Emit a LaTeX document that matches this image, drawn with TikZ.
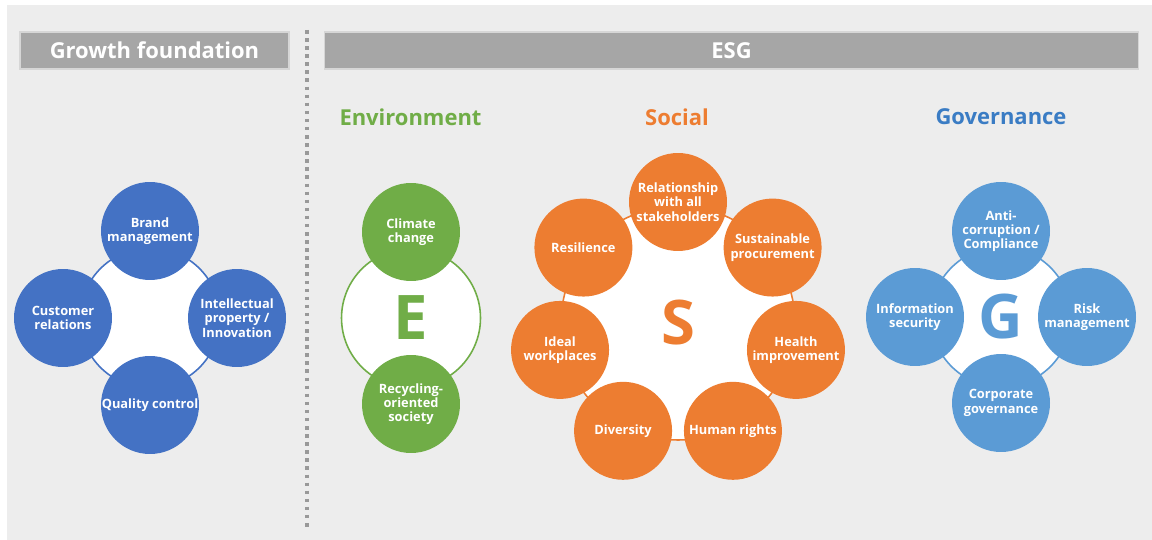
\documentclass[tikz,border=0pt]{standalone}
\usepackage{fontspec}
\setmainfont{Open Sans}
\usetikzlibrary{calc}
\definecolor{panelgray}{HTML}{EDEDED}
\definecolor{bargray}{HTML}{A6A6A6}
\definecolor{barline}{HTML}{D6D6D6}
\definecolor{dotgray}{HTML}{999999}
\definecolor{growthblue}{HTML}{4472C4}
\definecolor{envgreen}{HTML}{70AD47}
\definecolor{socialorange}{HTML}{ED7D31}
\definecolor{govblue}{HTML}{5B9BD5}
\definecolor{govtitle}{HTML}{3A7CC4}
\tikzset{
	headbar/.style={
		rectangle,
		fill=bargray,
		draw=barline,
		line width=.6pt,
		minimum height=.74cm,
		text=white,
		font=\fontsize{12.5}{14}\selectfont\bfseries
	},
	heading/.style={
		font=\fontsize{12.5}{14}\selectfont\bfseries
	},
	hub/.style={
		circle,
		fill=white,
		draw=#1,
		line width=.9pt,
		inner sep=0pt,
		text=#1,
		font=\fontsize{35}{35}\selectfont\bfseries
	},
	topic/.style={
		circle,
		fill=#1,
		minimum size=1.96cm,
		inner sep=0pt,
		align=center,
		text=white,
		font=\fontsize{7.3}{8.1}\selectfont\bfseries
	}
}

\begin{document}
\begin{tikzpicture}[x=.02cm, y=.02cm]
	\useasboundingbox (0,0) rectangle (1152,-540);
	\fill[panelgray] (7,-5) rectangle (1152,-540);

	\draw node[headbar, minimum width=5.38cm](GrowthBar) at (154.5,-50.5){Growth foundation};
	\draw node[headbar, minimum width=16.3cm](ESGBar) at (731.5,-50.5){ESG};
	\coordinate (SepTop) at (307,-30);
	\coordinate (SepBottom) at (307,-528);
	\draw[dotgray, line width=2pt, dash pattern=on 2pt off 2.6pt] (SepTop) -- (SepBottom);

	\draw node[heading, text=envgreen](EnvTitle) at (410.5,-117){Environment};
	\draw node[heading, text=socialorange](SocialTitle) at (677,-117){Social};
	\draw node[heading, text=govtitle](GovTitle) at (1001,-117){Governance};

	\draw node[hub=growthblue, minimum size=2.8cm](GrowthHub) at (150,-318){};
	\draw node[topic=growthblue](Brand) at ($(GrowthHub)+(90:87)$){Brand\\management};
	\draw node[topic=growthblue](IP) at ($(GrowthHub)+(0:87)$){Intellectual\\property /\\Innovation};
	\draw node[topic=growthblue](Quality) at ($(GrowthHub)+(-90:87)$){Quality control};
	\draw node[topic=growthblue](Customer) at ($(GrowthHub)+(180:87)$){Customer\\relations};

	\draw node[hub=envgreen, minimum size=2.78cm](EnvHub) at (411,-318){E};
	\draw node[topic=envgreen](Climate) at ($(EnvHub)+(90:86)$){Climate\\change};
	\draw node[topic=envgreen](Recycling) at ($(EnvHub)+(-90:86)$){Recycling-\\oriented\\society};

	\draw node[hub=socialorange, minimum size=4.68cm](SocialHub) at (678,-323){S};
	\foreach \ang/\nm/\txt in {90/Stakeholders/{Relationship\\with all\\stakeholders},
		38.57/Procurement/{Sustainable\\procurement},
		-12.86/Health/{Health\\improvement},
		-63/Rights/{Human rights},
		-117/Diversity/{Diversity},
		-167.14/Workplaces/{Ideal\\workplaces},
		141.43/Resilience/{Resilience}}
		\draw node[topic=socialorange](\nm) at ($(SocialHub)+(\ang:121)$){\txt};

	\draw node[hub=govblue, minimum size=2.8cm](GovHub) at (1001,-317){G};
	\draw node[topic=govblue](AntiCorruption) at ($(GovHub)+(90:86)$){Anti-\\corruption /\\Compliance};
	\draw node[topic=govblue](Risk) at ($(GovHub)+(0:86)$){Risk\\management};
	\draw node[topic=govblue](Corporate) at ($(GovHub)+(-90:86)$){Corporate\\governance};
	\draw node[topic=govblue](InfoSec) at ($(GovHub)+(180:86)$){Information\\security};
\end{tikzpicture}
\end{document}
